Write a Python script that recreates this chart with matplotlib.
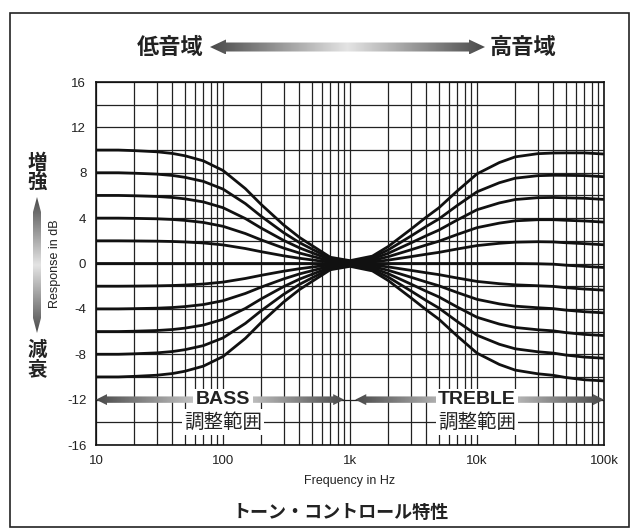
import numpy as np
import matplotlib
matplotlib.use('Agg')
import matplotlib.pyplot as plt
from matplotlib.ticker import LogLocator, FixedLocator, NullFormatter
from matplotlib.patches import Polygon, Rectangle
from matplotlib.colors import LinearSegmentedColormap

plt.rcParams['font.family'] = ['Liberation Sans', 'Noto Sans CJK JP', 'DejaVu Sans']
plt.rcParams['axes.unicode_minus'] = False
JP = ['Noto Sans CJK JP', 'DejaVu Sans']

# frequencies (Hz)
freqs = [10, 15, 20, 30, 40, 50, 70, 100, 150, 200, 300, 400, 500, 700,
         1000, 1500, 2000, 3000, 4000, 5000, 7000, 10000, 15000, 20000,
         30000, 40000, 50000, 70000, 100000]

# response curves in dB, one per bass/treble setting
resp_p10 = [10.0, 10.0, 9.95, 9.85, 9.7, 9.5, 9.05, 8.2, 6.6, 5.2, 3.4, 2.3, 1.6, 0.55,
            0.25, 0.65, 1.5, 3.0, 4.1, 4.9, 6.4, 7.9, 8.9, 9.4, 9.68, 9.74, 9.75, 9.75, 9.65]
resp_p8 = [8.0, 8.0, 7.96, 7.88, 7.76, 7.6, 7.24, 6.56, 5.28, 4.16, 2.72, 1.84, 1.28, 0.44,
           0.2, 0.52, 1.2, 2.4, 3.28, 3.92, 5.12, 6.32, 7.12, 7.52, 7.74, 7.78, 7.77, 7.75, 7.65]
resp_p6 = [6.0, 6.0, 5.97, 5.91, 5.82, 5.7, 5.43, 4.92, 3.96, 3.12, 2.04, 1.38, 0.96, 0.33,
           0.15, 0.39, 0.9, 1.8, 2.46, 2.94, 3.84, 4.74, 5.34, 5.64, 5.8, 5.82, 5.79, 5.75, 5.65]
resp_p4 = [4.0, 4.0, 3.98, 3.94, 3.88, 3.8, 3.62, 3.28, 2.64, 2.08, 1.36, 0.92, 0.64, 0.22,
           0.1, 0.26, 0.6, 1.2, 1.64, 1.96, 2.56, 3.16, 3.56, 3.76, 3.86, 3.86, 3.81, 3.75, 3.65]
resp_p2 = [2.0, 2.0, 1.99, 1.97, 1.94, 1.9, 1.81, 1.64, 1.32, 1.04, 0.68, 0.46, 0.32, 0.11,
           0.05, 0.13, 0.3, 0.6, 0.82, 0.98, 1.28, 1.58, 1.78, 1.88, 1.92, 1.9, 1.83, 1.75, 1.65]
resp_0 = [0, 0, 0, 0, 0, 0, 0, 0, 0, 0, 0, 0, 0, 0,
          0, 0, 0, 0, 0, 0, 0, 0, 0, 0, -0.02, -0.06, -0.15, -0.25, -0.35]
resp_m2 = [-2.0, -2.0, -1.99, -1.97, -1.94, -1.9, -1.81, -1.64, -1.32, -1.04, -0.68, -0.46, -0.32, -0.11,
           -0.05, -0.13, -0.3, -0.6, -0.82, -0.98, -1.28, -1.58, -1.78, -1.88, -1.96, -2.02, -2.13, -2.25, -2.35]
resp_m4 = [-4.0, -4.0, -3.98, -3.94, -3.88, -3.8, -3.62, -3.28, -2.64, -2.08, -1.36, -0.92, -0.64, -0.22,
           -0.1, -0.26, -0.6, -1.2, -1.64, -1.96, -2.56, -3.16, -3.56, -3.76, -3.9, -3.98, -4.11, -4.25, -4.35]
resp_m6 = [-6.0, -6.0, -5.97, -5.91, -5.82, -5.7, -5.43, -4.92, -3.96, -3.12, -2.04, -1.38, -0.96, -0.33,
           -0.15, -0.39, -0.9, -1.8, -2.46, -2.94, -3.84, -4.74, -5.34, -5.64, -5.84, -5.94, -6.09, -6.25, -6.35]
resp_m8 = [-8.0, -8.0, -7.96, -7.88, -7.76, -7.6, -7.24, -6.56, -5.28, -4.16, -2.72, -1.84, -1.28, -0.44,
           -0.2, -0.52, -1.2, -2.4, -3.28, -3.92, -5.12, -6.32, -7.12, -7.52, -7.78, -7.9, -8.07, -8.25, -8.35]
resp_m10 = [-10.0, -10.0, -9.95, -9.85, -9.7, -9.5, -9.05, -8.2, -6.6, -5.2, -3.4, -2.3, -1.6, -0.55,
            -0.25, -0.65, -1.5, -3.0, -4.1, -4.9, -6.4, -7.9, -8.9, -9.4, -9.72, -9.86, -10.05, -10.25, -10.35]

curves = [resp_p10, resp_p8, resp_p6, resp_p4, resp_p2, resp_0,
          resp_m2, resp_m4, resp_m6, resp_m8, resp_m10]

xticks = [10, 100, 1000, 10000, 100000]
xticklabels = ['10', '100', '1k', '10k', '100k']
yticks = [-16, -12, -8, -4, 0, 4, 8, 12, 16]

W, H = 638, 530
fig = plt.figure(figsize=(W / 100, H / 100), dpi=100)
fig.patch.set_facecolor('white')
ax = fig.add_axes([96 / W, 1 - 445 / H, 508 / W, 363 / H])

for c in curves:
    ax.plot(freqs, c, color='#111111', lw=2.0, solid_capstyle='butt', zorder=3)

ax.set_xscale('log')
ax.set_xlim(10, 100000)
ax.set_ylim(-16, 16)
ax.set_xticks(xticks)
ax.set_xticklabels(xticklabels)
ax.xaxis.set_minor_locator(LogLocator(base=10, subs=range(2, 10)))
ax.xaxis.set_minor_formatter(NullFormatter())
ax.set_yticks(yticks)
ax.yaxis.set_minor_locator(FixedLocator(list(range(-16, 17, 2))))
ax.grid(which='both', color='#222222', lw=0.9, zorder=1)
ax.set_axisbelow(True)
ax.tick_params(which='both', length=0, labelsize=9.5, colors='#222222', pad=7)
for s in ax.spines.values():
    s.set_linewidth(1.2)
    s.set_color('#111111')
ax.set_xlabel('Frequency in Hz', fontsize=9, color='#222222', labelpad=6)
ax.set_ylabel('Response in dB', fontsize=9, color='#222222', labelpad=4)

# overlay in pixel coordinates for decorations
ov = fig.add_axes([0, 0, 1, 1])
ov.set_xlim(0, W)
ov.set_ylim(0, H)
ov.axis('off')

cmap = LinearSegmentedColormap.from_list('g', ['#4a4a4a', '#e4e4e4', '#4a4a4a'])


def grad_arrow(x0, x1, c, sh, hh, hl, vertical=False):
    if not vertical:
        pts = [(x0, c), (x0 + hl, c + hh), (x0 + hl, c + sh), (x1 - hl, c + sh),
               (x1 - hl, c + hh), (x1, c), (x1 - hl, c - hh), (x1 - hl, c - sh),
               (x0 + hl, c - sh), (x0 + hl, c - hh)]
        grad = np.linspace(0, 1, 256).reshape(1, -1)
        extent = (x0, x1, c - hh, c + hh)
    else:
        pts = [(c, x0), (c + hh, x0 + hl), (c + sh, x0 + hl), (c + sh, x1 - hl),
               (c + hh, x1 - hl), (c, x1), (c - hh, x1 - hl), (c - sh, x1 - hl),
               (c - sh, x0 + hl), (c - hh, x0 + hl)]
        grad = np.linspace(0, 1, 256).reshape(-1, 1)
        extent = (c - hh, c + hh, x0, x1)
    poly = Polygon(pts, closed=True, fc='none', ec='none')
    ov.add_patch(poly)
    im = ov.imshow(grad, cmap=cmap, extent=extent, aspect='auto',
                   interpolation='bicubic', zorder=2)
    im.set_clip_path(poly)


def px(f, db):
    return ax.transData.transform((f, db))

# top: low / high range arrow
grad_arrow(210, 485, H - 47, 4.5, 7.5, 16)
ov.text(170, H - 47, '低音域', family=JP, fontsize=16, fontweight='bold',
        ha='center', va='center', color='#222222')
ov.text(523, H - 47, '高音域', family=JP, fontsize=16, fontweight='bold',
        ha='center', va='center', color='#222222')

# left: boost / cut arrow
grad_arrow(H - 333, H - 197, 37, 4, 4, 15, vertical=True)
ov.text(37, H - 173, '増\n強', family=JP, fontsize=14, fontweight='bold',
        ha='center', va='center', color='#222222', linespacing=1.0)
ov.text(37, H - 360, '減\n衰', family=JP, fontsize=14, fontweight='bold',
        ha='center', va='center', color='#222222', linespacing=1.0)

# bass / treble range arrows
bx0, by = px(10, -12)
bx1, _ = px(900, -12)
tx0, _ = px(1100, -12)
tx1, _ = px(100000, -12)
grad_arrow(bx0, bx1, by, 3.2, 5.5, 11)
grad_arrow(tx0, tx1, by, 3.2, 5.5, 11)

box = dict(boxstyle='square,pad=0.12', fc='white', ec='none')
for f, name in [(100, 'BASS'), (10000, 'TREBLE')]:
    x, y = px(f, -12)
    ov.text(x, y, name, fontsize=14, fontweight='bold', ha='center', va='center',
            color='#222222', bbox=box, zorder=5)
    x, y = px(f, -14)
    ov.text(x, y, '調整範囲', family=JP, fontsize=14, ha='center', va='center',
            color='#222222', bbox=box, zorder=5)

ov.text(341, H - 512, 'トーン・コントロール特性', family=JP, fontsize=13,
        fontweight='bold', ha='center', va='center', color='#222222')

ov.add_patch(Rectangle((10, 3), 619, 514, fill=False, ec='#222222', lw=1.2))
ov.set_xlim(0, W)
ov.set_ylim(0, H)

fig.savefig('out.png', dpi=100)
